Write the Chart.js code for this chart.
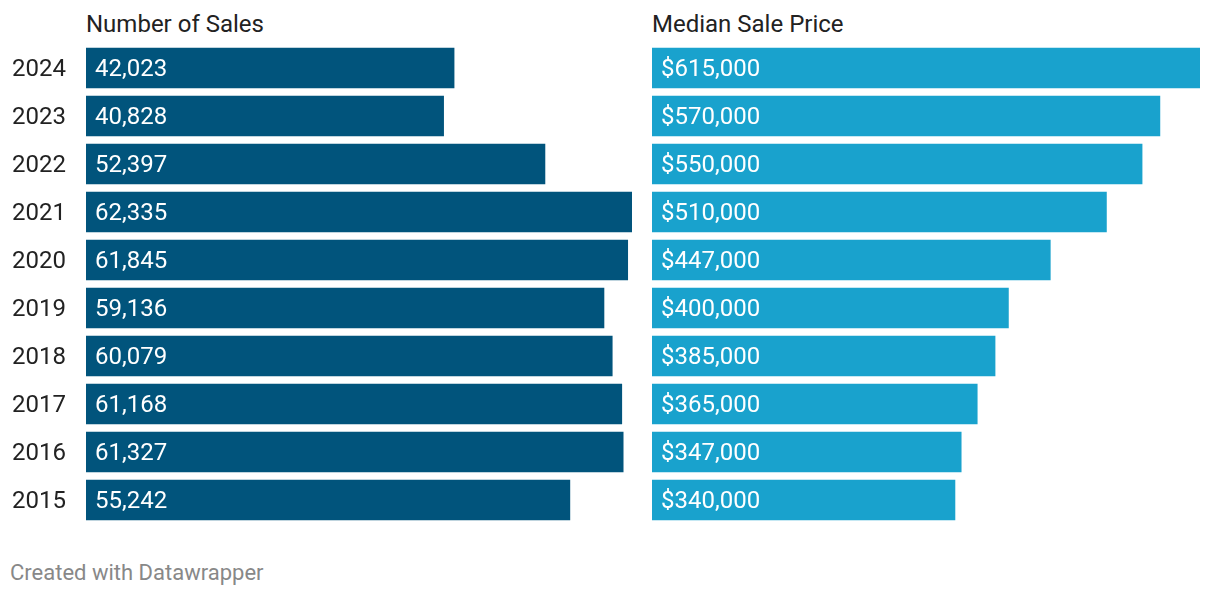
<!DOCTYPE html>
<html>
<head>
<meta charset="utf-8">
<script src="https://cdn.jsdelivr.net/npm/chart.js@4"></script>
<style>
  body { margin: 0; background: #fff; font-family: Roboto, sans-serif; }
  #wrap { position: relative; width: 1220px; height: 596px; }
  .title { position: absolute; top: 10px; font-size: 24px; color: #222; }
  #footer { position: absolute; left: 10px; top: 560px; font-size: 22px; color: #888; }
  .box { position: absolute; top: 0; height: 540px; }
</style>
</head>
<body>
<div id="wrap">
  <div class="title" style="left:86px">Number of Sales</div>
  <div class="title" style="left:652px">Median Sale Price</div>
  <div class="box" style="left:0; width:640px"><canvas id="salesChart"></canvas></div>
  <div class="box" style="left:640px; width:580px"><canvas id="priceChart"></canvas></div>
  <div id="footer">Created with Datawrapper</div>
</div>
<script>
const years = ['2024', '2023', '2022', '2021', '2020', '2019', '2018', '2017', '2016', '2015'];
const sales = [42023, 40828, 52397, 62335, 61845, 59136, 60079, 61168, 61327, 55242];
const prices = [615000, 570000, 550000, 510000, 447000, 400000, 385000, 365000, 347000, 340000];

// Value labels inside the bars, year labels left of the axis
const barLabels = {
  id: 'barLabels',
  afterDatasetsDraw(chart, args, opts) {
    const ctx = chart.ctx;
    const meta = chart.getDatasetMeta(0);
    ctx.save();
    ctx.font = '24px Roboto, sans-serif';
    ctx.textBaseline = 'middle';
    meta.data.forEach((bar, i) => {
      const v = chart.data.datasets[0].data[i];
      ctx.fillStyle = '#fff';
      ctx.textAlign = 'left';
      ctx.fillText(opts.prefix + v.toLocaleString('en-US'), bar.base + 9, bar.y + 2);
      if (opts.years) {
        ctx.fillStyle = '#222';
        ctx.textAlign = 'right';
        ctx.fillText(chart.data.labels[i], bar.base - 20, bar.y + 2);
      }
    });
    ctx.restore();
  }
};

function makeChart(id, values, color, max, showYears, prefix, pad) {
  return new Chart(document.getElementById(id), {
    type: 'bar',
    data: {
      labels: years,
      datasets: [{ data: values, backgroundColor: color, barThickness: 40 }]
    },
    options: {
      indexAxis: 'y',
      responsive: true,
      maintainAspectRatio: false,
      animation: false,
      layout: { padding: pad },
      plugins: {
        legend: { display: false },
        tooltip: { enabled: false },
        barLabels: { prefix: prefix, years: showYears }
      },
      scales: {
        x: { display: false, min: 0, max: max },
        y: { display: false }
      }
    },
    plugins: [barLabels]
  });
}

makeChart('salesChart', sales, '#01547c', 62335, true, '', { top: 44, bottom: 16, left: 86, right: 8 });
makeChart('priceChart', prices, '#19a2cd', 615000, false, '$', { top: 44, bottom: 16, left: 12, right: 20 });
</script>
</body>
</html>
